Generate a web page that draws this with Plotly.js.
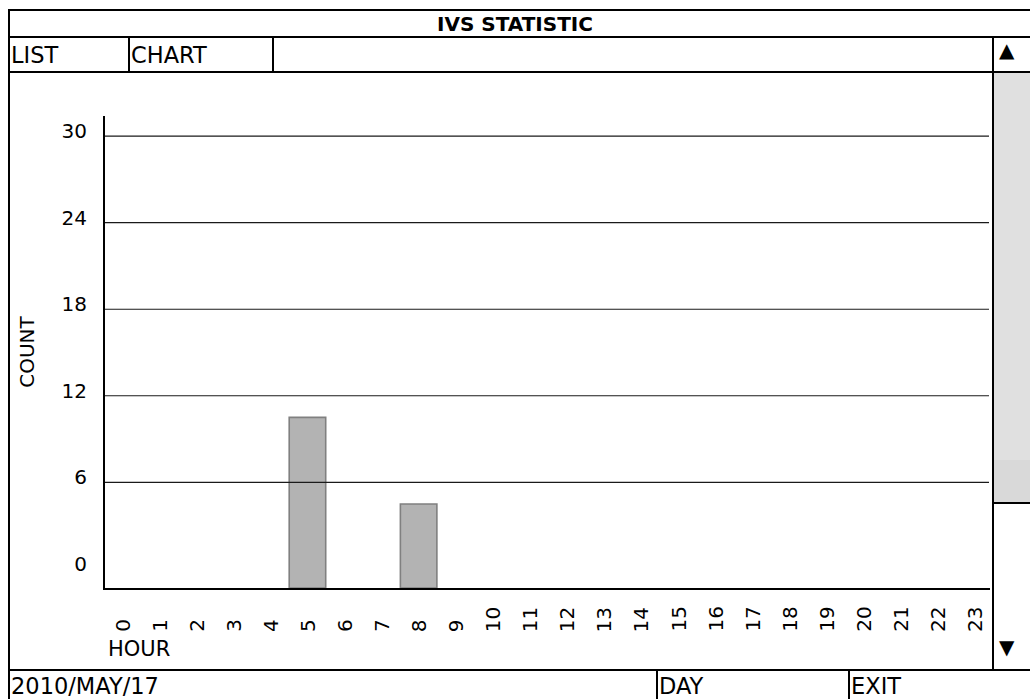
<!DOCTYPE html>
<html>
<head>
<meta charset="utf-8">
<script src="https://cdn.plot.ly/plotly-3.0.1.min.js"></script>
<style>
  html, body { margin: 0; padding: 0; background: #fff; }
  #chart { width: 1030px; height: 699px; }
</style>
</head>
<body>
<div id="chart"></div>
<script>
// ---- data ----
const hours = [0, 1, 2, 3, 4, 5, 6, 7, 8, 9, 10, 11, 12, 13, 14, 15, 16, 17, 18, 19, 20, 21, 22, 23];
const counts = [0, 0, 0, 0, 0, 10.5, 0, 0, 4.5, 0, 0, 0, 0, 0, 0, 0, 0, 0, 0, 0, 0, 0, 0, 0];
const yTickVals = [0, 6, 12, 18, 24, 30];
const yTickText = ['0', '6', '12', '18', '24', '30'];
const gridVals = [6, 12, 18, 24, 30];
const titleText = 'IVS STATISTIC';
const tabLabels = ['LIST', 'CHART'];
const dateText = '2010/MAY/17';
const footerButtons = ['DAY', 'EXIT'];
const xTitle = 'HOUR';
const yTitle = 'COUNT';

// ---- geometry (page pixels) ----
const W = 1030, H = 699;
const L = 105, R = 990, T = 116, B = 588;
const PX = x => (x - L) / (R - L);
const PY = y => (B - y) / (B - T);
const yMin = -1.33, yMax = 31.4;
const xMin = -0.464, xMax = 23.42;

const FONT = 'DejaVu Sans, Verdana, sans-serif';

const barY = counts.map(v => v > 0 ? v - yMin : null);

const traces = [{
  type: 'bar',
  x: hours,
  y: barY,
  base: yMin,
  width: 0.985,
  marker: { color: '#b3b3b3', line: { color: '#808080', width: 1.6 } },
  hoverinfo: 'skip'
}];

const shapes = [];
function hline(x0, x1, y, w) {
  shapes.push({ type: 'line', xref: 'paper', yref: 'paper', x0: PX(x0), x1: PX(x1), y0: PY(y), y1: PY(y),
    line: { color: '#000', width: w || 2 } });
}
function vline(x, y0, y1, w) {
  shapes.push({ type: 'line', xref: 'paper', yref: 'paper', x0: PX(x), x1: PX(x), y0: PY(y0), y1: PY(y1),
    line: { color: '#000', width: w || 2 } });
}
// scrollbar thumb
shapes.push({ type: 'rect', xref: 'paper', yref: 'paper', x0: PX(993), x1: PX(1031), y0: PY(72), y1: PY(460),
  line: { width: 0 }, fillcolor: '#e0e0e0', layer: 'below' });
shapes.push({ type: 'rect', xref: 'paper', yref: 'paper', x0: PX(993), x1: PX(1031), y0: PY(460), y1: PY(503),
  line: { width: 0 }, fillcolor: '#d9d9d9', layer: 'below' });
// gridlines from tick values (drawn above the bars as in the reference)
gridVals.forEach(v => {
  shapes.push({ type: 'line', xref: 'paper', yref: 'y', x0: 0, x1: (989 - L) / (R - L), y0: v, y1: v,
    line: { color: '#1a1a1a', width: 1.2 }, layer: 'above' });
});
// frame
hline(8, 1031, 10);
hline(8, 1031, 37);
hline(8, 1031, 72);
hline(8, 1031, 670);
hline(993, 1031, 503);
vline(9, 9, 700);
vline(129, 37, 72);
vline(273, 37, 72);
vline(993, 37, 670);
vline(657, 670, 700);
vline(849, 670, 700);

const annotations = [];
function txt(text, x, y, opts) {
  annotations.push(Object.assign({
    text: text, xref: 'paper', yref: 'paper', x: PX(x), y: PY(y), showarrow: false,
    xanchor: 'left', yanchor: 'middle', font: { family: FONT, size: 22.5, color: '#000' }
  }, opts || {}));
}
txt(titleText, 515, 24, { xanchor: 'center', font: { family: FONT, size: 20, color: '#000', weight: 'bold' } });
txt(tabLabels[0], 9, 55);
txt(tabLabels[1], 129, 55);
txt(dateText, 9, 686);
txt(footerButtons[0], 657, 686);
txt(footerButtons[1], 849, 686);
txt('▲', 1007, 50, { xanchor: 'center', font: { family: FONT, size: 20, color: '#000' } });
txt('▼', 1007, 647, { xanchor: 'center', font: { family: FONT, size: 20, color: '#000' } });
txt(xTitle, 106, 649, { font: { family: FONT, size: 21, color: '#000' } });
// x tick labels: rotated, aligned at their bottom end
hours.forEach(h => {
  annotations.push({
    text: String(h), xref: 'x', yref: 'paper', x: h, y: PY(633), showarrow: false,
    textangle: -90, xanchor: 'center', yanchor: 'bottom', borderpad: 0,
    font: { family: FONT, size: 20, color: '#000' }
  });
});

const layout = {
  width: W, height: H,
  margin: { l: L, r: W - R, t: T, b: H - B, pad: 0 },
  paper_bgcolor: '#fff', plot_bgcolor: '#fff',
  showlegend: false,
  bargap: 0,
  xaxis: {
    range: [xMin, xMax], showgrid: false, zeroline: false,
    showline: true, linecolor: '#000', linewidth: 2,
    showticklabels: false, ticks: '', fixedrange: true
  },
  yaxis: {
    range: [yMin, yMax], showgrid: false, zeroline: false,
    showline: true, linecolor: '#000', linewidth: 2,
    tickmode: 'array', tickvals: yTickVals, ticktext: yTickText,
    ticks: '', ticklabelshift: -5, ticklabelstandoff: 12,
    tickfont: { family: FONT, size: 20, color: '#000' },
    title: { text: yTitle, font: { family: FONT, size: 20, color: '#000' }, standoff: 22 },
    fixedrange: true
  },
  shapes: shapes,
  annotations: annotations
};

Plotly.newPlot('chart', traces, layout, { displayModeBar: false, staticPlot: true });
</script>
</body>
</html>
